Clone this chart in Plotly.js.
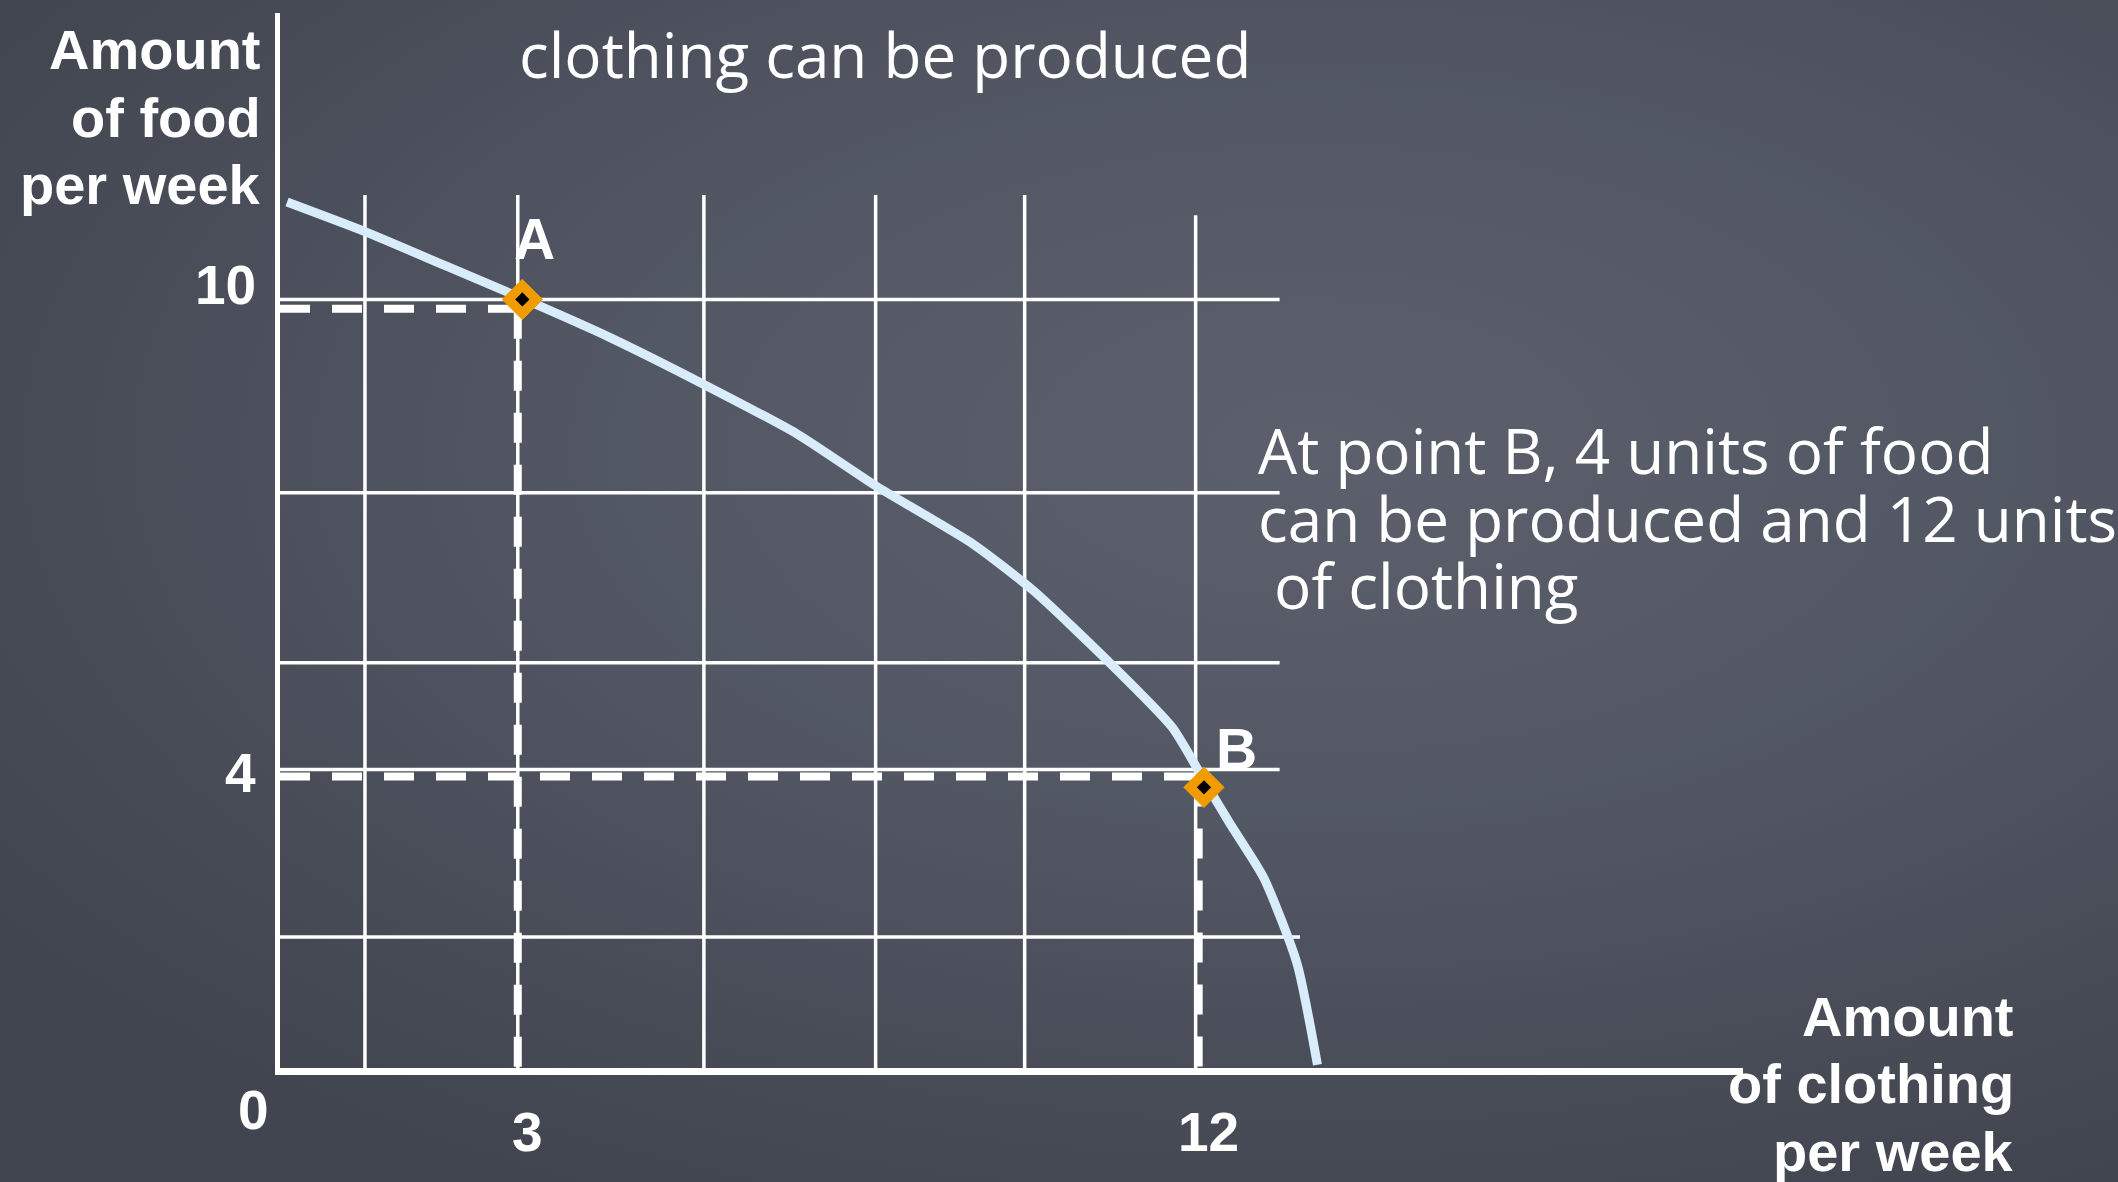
<!DOCTYPE html>
<html>
<head>
<meta charset="utf-8">
<script src="https://cdn.plot.ly/plotly-3.0.1.min.js"></script>
<style>
  html, body { margin: 0; padding: 0; }
  body {
    width: 2118px; height: 1182px; overflow: hidden;
    background: radial-gradient(ellipse 75% 70% at 62% 38%, #5b606c 0%, #525764 45%, #41454f 100%);
  }
  #plot { width: 2118px; height: 1182px; }
</style>
</head>
<body>
<div id="plot"></div>
<script>
// production possibilities frontier
var curveX = [-0.05, 0.98, 2.05, 3.09, 4.20, 5.46, 6.70, 7.73, 9.02, 9.82, 10.80, 11.65, 12.07, 12.41, 12.86, 13.30, 13.57];
var curveY = [11.37, 10.99, 10.55, 10.12, 9.64, 9.03, 8.39, 7.73, 6.98, 6.38, 5.48, 4.63, 3.95, 3.40, 2.70, 1.60, 0.30];

// points A and B
var pointNames = ['A', 'B'];
var pointX = [3.06, 12.07];
var pointY = [10.12, 3.86];
var guideX = [3, 12];
var guideY = [10, 4];

// hand drawn grid
var vGridX = [0.98, 3.0, 5.46, 7.73, 9.70, 11.96];
var vGridTop = [11.46, 11.46, 11.46, 11.46, 11.46, 11.2];
var hGridY = [10.12, 7.64, 5.46, 4.09, 1.94];
var hGridEnd = [13.07, 13.07, 13.07, 13.07, 13.34];

var xTickVals = [3, 12];
var yTickVals = [10, 4];

var topText = 'clothing can be produced';
var noteLines = ['At point B, 4 units of food', 'can be produced and 12 units', '&nbsp;of clothing'];
var yTitleLines = ['Amount', 'of food', 'per week'];
var xTitleLines = ['Amount', 'of clothing', 'per week'];

var xMin = -0.143, xMax = 19.195, yMin = 0.259, yMax = 13.795;

var white = '#ffffff';
var traces = [];

// grid segments
vGridX.forEach(function (x, i) {
  traces.push({x: [x, x], y: [yMin, vGridTop[i]], mode: 'lines', line: {color: white, width: 3.5}, hoverinfo: 'skip'});
});
hGridY.forEach(function (y, i) {
  traces.push({x: [xMin, hGridEnd[i]], y: [y, y], mode: 'lines', line: {color: white, width: 3.5}, hoverinfo: 'skip'});
});

// dashed guides
guideX.forEach(function (gx, i) {
  traces.push({x: [xMin, gx], y: [guideY[i], guideY[i]], mode: 'lines', line: {color: white, width: 8, dash: '30px,22px'}, hoverinfo: 'skip'});
  traces.push({x: [gx, gx], y: [guideY[i], yMin], mode: 'lines', line: {color: white, width: 8, dash: '30px,22px'}, hoverinfo: 'skip'});
});

// frontier
traces.push({x: curveX, y: curveY, mode: 'lines', line: {color: '#d8ecfb', width: 9, shape: 'spline', smoothing: 0.6}, hoverinfo: 'skip'});

// markers
traces.push({x: pointX, y: pointY, mode: 'markers', marker: {symbol: 'diamond', size: 31, color: '#f09c00', line: {color: '#f09c00', width: 1}}, hoverinfo: 'skip'});
traces.push({x: pointX, y: pointY, mode: 'markers', marker: {symbol: 'diamond', size: 11, color: '#000000'}, hoverinfo: 'skip'});

var boldFont = {family: 'Liberation Sans, Arial, sans-serif', color: white, size: 55};
var titleFont = {family: 'Liberation Sans, Arial, sans-serif', color: white, size: 56};
var bodyFont = {family: 'Open Sans, sans-serif', color: white, size: 62};

var annotations = [];
xTickVals.forEach(function (v) {
  annotations.push({x: v, y: 0, xref: 'x', yref: 'paper', text: '<b>' + v + '</b>', showarrow: false,
    xanchor: 'center', yanchor: 'middle', xshift: 10, yshift: -64, font: boldFont});
});
yTickVals.forEach(function (v, i) {
  annotations.push({x: 0, y: v, xref: 'paper', yref: 'y', text: '<b>' + v + '</b>', showarrow: false,
    xanchor: 'right', yanchor: 'middle', xshift: -22, yshift: i === 0 ? 24 : 3, font: boldFont});
});
annotations.push({x: 0, y: 0, xref: 'paper', yref: 'paper', text: '<b>0</b>', showarrow: false,
  xanchor: 'center', yanchor: 'middle', xshift: -27, yshift: -42, font: boldFont});

pointNames.forEach(function (name, i) {
  annotations.push({x: pointX[i], y: pointY[i], text: '<b>' + name + '</b>', showarrow: false,
    xanchor: 'center', yanchor: 'middle', xshift: i === 0 ? 12 : 33, yshift: i === 0 ? 60 : 38,
    font: Object.assign({}, boldFont, {size: 57})});
});

annotations.push({x: 0.4138, y: 0.9616, xref: 'paper', yref: 'paper', text: topText, showarrow: false,
  xanchor: 'center', yanchor: 'middle', font: bodyFont});
noteLines.forEach(function (line, i) {
  annotations.push({x: 0.6669, y: 0.5854, xref: 'paper', yref: 'paper', text: line, showarrow: false,
    xanchor: 'left', yanchor: 'middle', yshift: -67.5 * i, font: bodyFont});
});

// axis titles, one line at a time to keep the tight line spacing
yTitleLines.forEach(function (line, i) {
  annotations.push({x: -0.0113, y: 0.965, xref: 'paper', yref: 'paper', text: '<b>' + line + '</b>', showarrow: false,
    xanchor: 'right', yanchor: 'middle', yshift: -67.5 * i, font: titleFont});
});
xTitleLines.forEach(function (line, i) {
  annotations.push({x: 1.1863, y: 0.0460, xref: 'paper', yref: 'paper', text: '<b>' + line + '</b>', showarrow: false,
    xanchor: 'right', yanchor: 'middle', yshift: 3 - 67.5 * i, font: titleFont});
});

var layout = {
  width: 2118, height: 1182,
  margin: {l: 280, r: 375, t: 13, b: 114, pad: 0},
  paper_bgcolor: 'rgba(0,0,0,0)',
  plot_bgcolor: 'rgba(0,0,0,0)',
  showlegend: false,
  xaxis: {range: [xMin, xMax], showgrid: false, zeroline: false, showticklabels: false, ticks: '',
    showline: true, linecolor: white, linewidth: 7},
  yaxis: {range: [yMin, yMax], showgrid: false, zeroline: false, showticklabels: false, ticks: '',
    showline: true, linecolor: white, linewidth: 5},
  annotations: annotations
};

Plotly.newPlot('plot', traces, layout, {staticPlot: true});
</script>
</body>
</html>
